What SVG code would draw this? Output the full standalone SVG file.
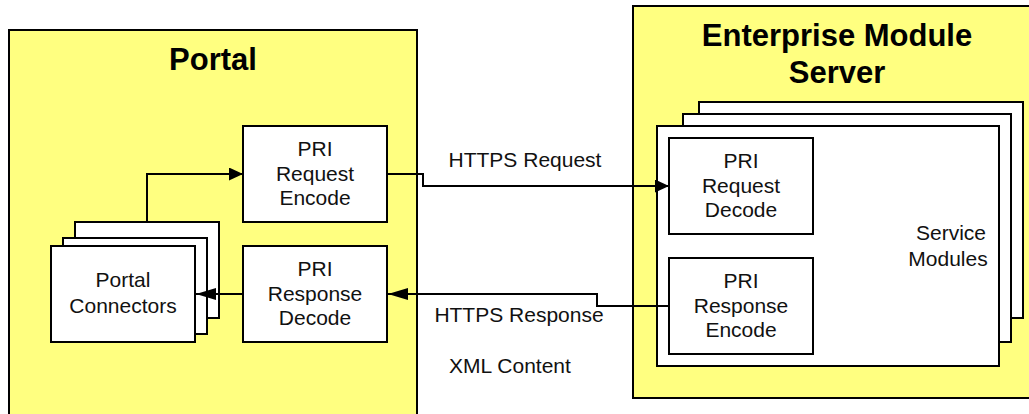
<svg xmlns="http://www.w3.org/2000/svg" width="1029" height="414" viewBox="0 0 1029 414">
  <style>
    .container { fill: #FFFF80; stroke: #000; stroke-width: 2; }
    .box { fill: #FFFFFF; stroke: #000; stroke-width: 2; }
    .title { font-family: "Liberation Sans", Arial, sans-serif; font-weight: bold; font-size: 31px; fill: #000; text-anchor: middle; }
    .label { font-family: "Liberation Sans", Arial, sans-serif; font-size: 21px; fill: #111; text-anchor: middle; }
    .conn { fill: none; stroke: #000; stroke-width: 2; }
  </style>
  <defs>
    <marker id="arrowS" markerUnits="userSpaceOnUse" markerWidth="14" markerHeight="13" refX="14" refY="6.5" orient="auto">
      <path d="M0,0 L14,6.5 L0,13 Z" fill="#000"/>
    </marker>
    <marker id="arrowL" markerUnits="userSpaceOnUse" markerWidth="20" markerHeight="12" refX="20" refY="6" orient="auto">
      <path d="M0,0 L20,6 L0,12 Z" fill="#000"/>
    </marker>
  </defs>
  <rect width="1029" height="414" fill="#FFFFFF"/>

  <g id="portal">
    <rect class="container" x="9" y="30" width="408" height="400"/>
    <text class="title" x="213" y="70">Portal</text>
  </g>

  <g id="enterprise-module-server">
    <rect class="container" x="633" y="6" width="410" height="392"/>
    <text class="title" x="837" y="46">Enterprise Module</text>
    <text class="title" x="837" y="83">Server</text>
  </g>

  <g id="service-modules">
    <rect class="box" x="699" y="102" width="324" height="216"/>
    <rect class="box" x="683" y="114" width="328" height="228"/>
    <rect class="box" x="657" y="126" width="342" height="240"/>
    <text class="label" x="951" y="240">Service</text>
    <text class="label" x="948" y="266">Modules</text>
  </g>

  <g id="portal-connectors">
    <rect class="box" x="75" y="222" width="144" height="96"/>
    <rect class="box" x="63" y="238" width="144" height="96"/>
    <rect class="box" x="51" y="246" width="144" height="96"/>
    <text class="label" x="123" y="287">Portal</text>
    <text class="label" x="123" y="313">Connectors</text>
  </g>

  <g id="pri-request-encode">
    <rect class="box" x="243" y="126" width="144" height="96"/>
    <text class="label" x="315" y="156">PRI</text>
    <text class="label" x="315" y="181">Request</text>
    <text class="label" x="315" y="205">Encode</text>
  </g>

  <g id="pri-response-decode">
    <rect class="box" x="243" y="246" width="144" height="96"/>
    <text class="label" x="315" y="276">PRI</text>
    <text class="label" x="315" y="301">Response</text>
    <text class="label" x="315" y="325">Decode</text>
  </g>

  <g id="pri-request-decode">
    <rect class="box" x="669" y="138" width="144" height="96"/>
    <text class="label" x="741" y="168">PRI</text>
    <text class="label" x="741" y="193">Request</text>
    <text class="label" x="741" y="217">Decode</text>
  </g>

  <g id="pri-response-encode">
    <rect class="box" x="669" y="258" width="144" height="96"/>
    <text class="label" x="741" y="288">PRI</text>
    <text class="label" x="741" y="313">Response</text>
    <text class="label" x="741" y="337">Encode</text>
  </g>

  <g id="connectors">
    <path class="conn" d="M147,222 V174 H243" marker-end="url(#arrowS)"/>
    <path class="conn" d="M243,294 H196" marker-end="url(#arrowL)"/>
    <path class="conn" d="M387,174 H423 V186 H669" marker-end="url(#arrowS)"/>
    <path class="conn" d="M669,306 H597 V294 H388" marker-end="url(#arrowL)"/>
  </g>

  <g id="connector-labels">
    <text class="label" x="525" y="167">HTTPS Request</text>
    <text class="label" x="519" y="322">HTTPS Response</text>
    <text class="label" x="510" y="373">XML Content</text>
  </g>
</svg>
